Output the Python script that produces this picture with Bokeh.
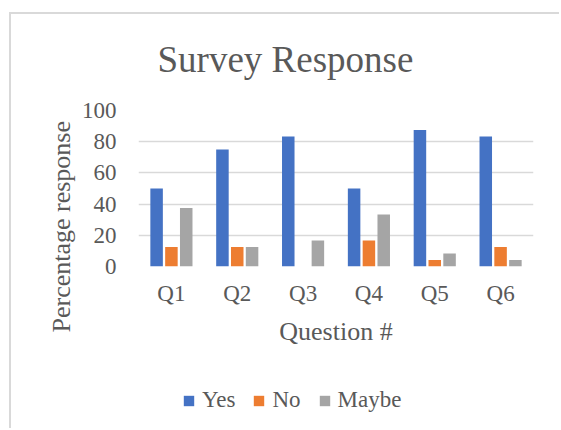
from bokeh.plotting import figure
from bokeh.layouts import column
from bokeh.models import ColumnDataSource, Legend, LegendItem, Title, FixedTicker, Range1d
from bokeh.transform import dodge
from bokeh.embed import file_html
from bokeh.resources import INLINE

# ---- data ----
questions = ["Q1", "Q2", "Q3", "Q4", "Q5", "Q6"]
yes = [50.0, 75.0, 83.3, 50.0, 87.5, 83.3]
no = [12.5, 12.5, 0.0, 16.7, 4.2, 12.5]
maybe = [37.5, 12.5, 16.7, 33.3, 8.3, 4.2]
y_ticks = [0, 20, 40, 60, 80, 100]
series_names = ["Yes", "No", "Maybe"]

FONT = "Liberation Serif"
TXT = "#595959"
COLORS = ["#4472C4", "#ED7D31", "#A5A5A5"]

source = ColumnDataSource(dict(q=questions, yes=yes, no=no, maybe=maybe))

p = figure(
    x_range=questions,
    y_range=Range1d(0, 100),
    frame_width=395, frame_height=156,
    min_border_left=138, min_border_right=26,
    min_border_top=110, min_border_bottom=100,
    output_backend="svg", toolbar_location=None,
)
p.outline_line_color = None
p.background_fill_color = "white"
p.border_fill_color = None

offsets = [-0.225, 0.0, 0.225]
cols = ["yes", "no", "maybe"]
for col, off, color in zip(cols, offsets, COLORS):
    p.vbar(x=dodge("q", off, range=p.x_range), top=col, width=0.19,
           source=source, fill_color=color, line_color=None)

# grid
p.xgrid.grid_line_color = None
p.ygrid.grid_line_color = "#D9D9D9"
p.ygrid.grid_line_width = 1.5
p.ygrid.ticker = FixedTicker(ticks=y_ticks)

# axes
for ax in (p.xaxis[0], p.yaxis[0]):
    ax.axis_line_color = None
    ax.major_tick_line_color = None
    ax.minor_tick_line_color = None
    ax.major_tick_out = 0
    ax.major_tick_in = 0
    ax.minor_tick_out = 0
    ax.major_label_text_font = FONT
    ax.major_label_text_font_size = "23px"
    ax.major_label_text_color = TXT
p.yaxis[0].ticker = FixedTicker(ticks=y_ticks)
p.yaxis[0].major_label_standoff = 22
p.xaxis[0].major_label_standoff = 14

p.xaxis[0].axis_label = "Question #"
p.xaxis[0].axis_label_text_font = FONT
p.xaxis[0].axis_label_text_font_size = "26px"
p.xaxis[0].axis_label_text_font_style = "normal"
p.xaxis[0].axis_label_text_color = TXT
p.xaxis[0].axis_label_standoff = 8

# title
p.title.text = "Survey Response"
p.title.align = "left"
p.title.offset = 19
p.title.standoff = 62
p.title.text_font = FONT
p.title.text_font_size = "37px"
p.title.text_font_style = "normal"
p.title.text_color = TXT

# y axis title as a left-side title
p.add_layout(Title(text="Percentage response", align="left", offset=-66, standoff=6,
                   text_font=FONT, text_font_size="26px", text_font_style="normal",
                   text_color=TXT), "left")

# ---- legend strip (separate figure below the chart, frame aligned with the chart) ----
q = figure(
    width=559, height=62,
    x_range=p.x_range, y_range=Range1d(200, 262),
    min_border_left=138, min_border_right=26, min_border_top=0, min_border_bottom=0,
    output_backend="svg", toolbar_location=None,
)
q.axis.visible = False
q.grid.visible = False
q.outline_line_color = None
q.background_fill_color = None
q.border_fill_color = None

# same series renderers (their bars lie outside this strip's range; used for legend swatches)
legend_renderers = [
    q.vbar(x=dodge("q", off, range=q.x_range), top=col, width=0.19,
           source=source, fill_color=color, line_color=None)
    for col, off, color in zip(cols, offsets, COLORS)
]
legend = Legend(
    items=[LegendItem(label=n, renderers=[r]) for n, r in zip(series_names, legend_renderers)],
    orientation="horizontal", location=(44, 15),
    glyph_width=13, glyph_height=13, label_height=13,
    label_standoff=7, spacing=17, padding=0, margin=0,
    border_line_color=None, background_fill_alpha=0,
    label_text_font=FONT, label_text_font_size="23px", label_text_color=TXT,
)
q.add_layout(legend, "center")

layout = column(
    p, q, spacing=0,
    styles={
        "background": "linear-gradient(#D9D9D9, #D9D9D9) 9px 12px / 100% 2px no-repeat, "
                      "linear-gradient(#D9D9D9, #D9D9D9) 9px 12px / 2px 100% no-repeat, white",
    },
)

open("out.html", "w").write(file_html(layout, INLINE))
